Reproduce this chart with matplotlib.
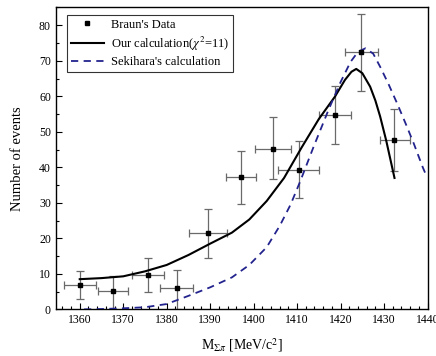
import matplotlib
matplotlib.use("Agg")
import matplotlib.pyplot as plt
from matplotlib.ticker import MultipleLocator

plt.rcParams['font.family'] = ['Liberation Serif', 'DejaVu Serif']
plt.rcParams['mathtext.fontset'] = 'stix'

# Braun's data
data_x = [1360.1, 1367.7, 1375.7, 1382.3, 1389.6, 1397.1, 1404.5, 1410.5, 1418.7, 1424.7, 1432.4]
data_y = [6.9, 5.2, 9.7, 6.0, 21.4, 37.2, 45.2, 39.3, 54.6, 72.5, 47.7]
yerr_lo = [4.0, 5.2, 4.8, 5.8, 7.0, 7.4, 8.6, 8.0, 8.1, 10.9, 8.7]
yerr_hi = [3.8, 4.2, 4.8, 5.1, 6.9, 7.4, 8.9, 8.0, 8.2, 10.8, 8.6]
xerr_lo = [3.8, 3.5, 3.7, 3.8, 4.4, 3.4, 4.1, 4.8, 3.6, 3.6, 3.4]
xerr_hi = [3.7, 3.5, 3.6, 3.8, 4.2, 3.4, 4.0, 4.6, 3.7, 3.8, 3.5]

# Our calculation
ours_x = [1360, 1365, 1370, 1375, 1380, 1385, 1390, 1395, 1399, 1403, 1407, 1411, 1415,
          1418.7, 1421, 1422.5, 1423.6, 1425, 1426.8, 1428, 1429.1, 1430.5, 1432.4]
ours_y = [8.5, 8.8, 9.3, 10.7, 12.5, 15.3, 18.5, 21.6, 25.3, 30.5, 37.0, 45.5, 53.6,
          59.9, 64.6, 66.9, 67.7, 66.5, 62.7, 58.8, 54.3, 47.5, 37.0]

# Sekihara's calculation
sek_x = [1361, 1365, 1370, 1375, 1380, 1385, 1390, 1395, 1399, 1403, 1406, 1408.5, 1410.7,
         1413.8, 1417.2, 1420, 1422.3, 1424, 1425.7, 1427.5, 1429.1, 1431, 1433, 1435,
         1436.8, 1438.9, 1439.6]
sek_y = [0.0, 0.1, 0.3, 0.6, 1.5, 3.8, 6.2, 9.0, 12.5, 17.5, 23.5, 29.5, 36.0,
         45.8, 56.1, 64.0, 69.7, 72.5, 73.5, 72.0, 68.3, 63.5, 58.0, 52.2,
         46.8, 40.0, 38.0]

fig = plt.figure(figsize=(4.36, 3.56), dpi=100)
ax = fig.add_axes([0.128, 0.131, 0.8526, 0.848])

ax.errorbar(data_x, data_y, yerr=[yerr_lo, yerr_hi], xerr=[xerr_lo, xerr_hi],
            fmt='none', ecolor='#6a6a6a', elinewidth=0.9, capsize=3, capthick=0.9, zorder=2)
ax.plot(data_x, data_y, 's', color='black', markersize=3.2, linestyle='none',
        label="Braun's Data", zorder=4)
ax.plot(ours_x, ours_y, '-', color='black', lw=1.5,
        label=r"Our calculation($\chi^2$=11)", zorder=3)
ax.plot(sek_x, sek_y, '--', color='#23238e', lw=1.3, dashes=(4, 3),
        label="Sekihara's calculation", zorder=3)

ax.set_xlim(1354.5, 1440)
ax.set_ylim(0, 85)
ax.xaxis.set_major_locator(MultipleLocator(10))
ax.xaxis.set_minor_locator(MultipleLocator(2))
ax.yaxis.set_major_locator(MultipleLocator(10))
ax.yaxis.set_minor_locator(MultipleLocator(5))
ax.tick_params(which='both', direction='in', top=False, right=False, labelsize=8.5)
ax.tick_params(which='major', length=4, width=0.8)
ax.tick_params(which='minor', length=2, width=0.8)
for s in ax.spines.values():
    s.set_linewidth(1.0)

ax.set_ylabel('Number of events', fontsize=10.5, labelpad=11)
ax.set_xlabel(r'M$_{\Sigma\pi}$ [MeV/c$^2$]', fontsize=10, labelpad=7)

leg = ax.legend(loc='upper left', bbox_to_anchor=(0.031, 0.975), borderaxespad=0,
                fontsize=9.0, frameon=True, fancybox=False, edgecolor='black',
                handlelength=2.6, handletextpad=0.6, borderpad=0.3, labelspacing=0.3,
                markerscale=1.0)
leg.get_frame().set_linewidth(0.8)

fig.savefig('out.png', dpi=100)
